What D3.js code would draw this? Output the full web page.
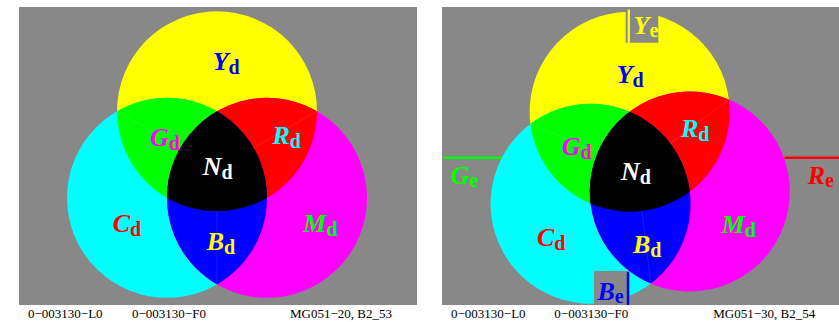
<!DOCTYPE html>
<html><head><meta charset="utf-8">
<script src="https://cdn.jsdelivr.net/npm/d3@7"></script>
<style>body{margin:0;background:#fff}svg{display:block}</style>
</head><body>
<svg id="chart" width="839" height="322"></svg>
<script>
// ---- data ----
const circleNames = ["Y", "C", "M"];
const circleColors = ["#ffff00", "#00ffff", "#ff00ff"];
const pairNames = ["G", "R", "B"];           // Y∩C, Y∩M, C∩M
const pairColors = ["#00ff00", "#ff0000", "#0000ff"];
const tripleName = "N";
const tripleColor = "#000000";
const labelLetters = ["Y", "G", "R", "N", "C", "M", "B"];
const labelColors = ["#0000ff", "#ff00ff", "#00ffff", "#ffffff", "#ff0000", "#00ff00", "#ffff00"];
const labelSub = "d";
const extLetters = ["Y", "G", "R", "B"];
const extColors = ["#ffff00", "#00ff00", "#ff0000", "#0000ff"];
const extSub = "e";
const footLeft = ["0\u2212003130\u2212L0", "0\u2212003130\u2212F0", "MG051\u221220, B2_53"];
const footRight = ["0\u2212003130\u2212L0", "0\u2212003130\u2212F0", "MG051\u221230, B2_54"];

// ---- layout ----
const svg = d3.select("#chart");
const unit = d3.scaleLinear().domain([0, 1]).range([0, 100]);
const GRAY = "#888888";
const FONT = "'Liberation Serif','Times New Roman',serif";
const centerAngles = {Y: -90, C: 150, M: 30};
const dist = 1 / Math.sqrt(3);
function center(n) {
  const a = centerAngles[n] * Math.PI / 180;
  return [unit(dist * Math.cos(a)), unit(dist * Math.sin(a))];
}
function outer(a, b) { // outer intersection of circles a,b: opposite the third
  const third = circleNames.find(n => n !== a && n !== b);
  const ang = (centerAngles[third] + 180) * Math.PI / 180;
  return [unit(2 * dist * Math.cos(ang)), unit(2 * dist * Math.sin(ang))];
}

const panels = [
  {id: "L", x0: 19, x1: 417, y0: 7, y1: 305, cx: 217, cy: 169, rot: 0,
   labels: [[212.7, 70], [150, 146], [272.5, 144], [202.7, 175], [112.7, 232], [303.3, 232], [206.7, 250]],
   foot: footLeft, footX: [28, 132, 290]},
  {id: "R", x0: 442, x1: 839, y0: 7, y1: 305, cx: 636.7, cy: 169, rot: -7,
   labels: [[616.7, 83], [561.7, 155], [681, 137], [621, 180], [537, 246], [721.7, 233], [633, 253]],
   foot: footRight, footX: [451, 554.3, 713.3]}
];

const defs = svg.append("defs");

function label(g, x, y, letter, sub, color, dy) {
  const t = g.append("text").attr("x", x).attr("y", y)
    .attr("fill", color).attr("font-family", FONT).attr("font-weight", "bold");
  t.append("tspan").attr("font-style", "italic").attr("font-size", 26).text(letter);
  t.append("tspan").attr("font-size", 20).attr("dy", dy).text(sub);
}

panels.forEach(p => {
  svg.append("rect").attr("x", p.x0).attr("y", p.y0)
    .attr("width", p.x1 - p.x0).attr("height", p.y1 - p.y0).attr("fill", GRAY);

  const pc = defs.append("clipPath").attr("id", "panel-" + p.id);
  pc.append("rect").attr("x", p.x0).attr("y", p.y0)
    .attr("width", p.x1 - p.x0).attr("height", p.y1 - p.y0);

  circleNames.forEach(n => {
    const c = center(n);
    defs.append("clipPath").attr("id", `c-${p.id}-${n}`)
      .append("circle").attr("cx", c[0]).attr("cy", c[1]).attr("r", unit(1));
  });

  const outerG = svg.append("g").attr("clip-path", `url(#panel-${p.id})`);
  const g = outerG.append("g")
    .attr("transform", `translate(${p.cx},${p.cy}) rotate(${p.rot})`);

  // single circles
  circleNames.forEach((n, i) => {
    const c = center(n);
    g.append("circle").attr("cx", c[0]).attr("cy", c[1]).attr("r", unit(1))
      .attr("fill", circleColors[i]);
  });
  // pairwise intersections
  const pairs = [["Y", "C"], ["Y", "M"], ["C", "M"]];
  pairs.forEach((pr, i) => {
    const c = center(pr[1]);
    g.append("circle").attr("cx", c[0]).attr("cy", c[1]).attr("r", unit(1))
      .attr("fill", pairColors[i]).attr("clip-path", `url(#c-${p.id}-${pr[0]})`);
  });
  pairs.forEach(pr => {
    const o = outer(pr[0], pr[1]);
    g.append("line").attr("x1", o[0]).attr("y1", o[1]).attr("x2", 0).attr("y2", 0)
      .attr("stroke", "#ffffff").attr("stroke-opacity", 0.13).attr("stroke-width", 0.8);
  });
  // triple intersection
  const cm = center("M");
  g.append("g").attr("clip-path", `url(#c-${p.id}-C)`)
    .append("circle").attr("cx", cm[0]).attr("cy", cm[1]).attr("r", unit(1))
    .attr("fill", tripleColor).attr("clip-path", `url(#c-${p.id}-Y)`);

  // labels
  labelLetters.forEach((L, i) => {
    label(svg, p.labels[i][0], p.labels[i][1], L, labelSub, labelColors[i], 4);
  });

  // footer
  p.foot.forEach((s, i) => {
    svg.append("text").attr("x", p.footX[i]).attr("y", 318)
      .attr("font-family", FONT).attr("font-size", 13).attr("fill", "#000").text(s);
  });
});

// external colour markers (right panel)
const ext = svg.append("g");
// Y_e
ext.append("rect").attr("x", 625.7).attr("y", 7).attr("width", 32.6).attr("height", 35.7).attr("fill", GRAY);
ext.append("line").attr("x1", 628.8).attr("x2", 628.8).attr("y1", 9.5).attr("y2", 42.7)
  .attr("stroke", extColors[0]).attr("stroke-width", 2.4);
label(ext, 633.5, 33.5, extLetters[0], extSub, extColors[0], 3);
// G_e
ext.append("line").attr("x1", 443).attr("x2", 501.8).attr("y1", 157.7).attr("y2", 157.7)
  .attr("stroke", extColors[1]).attr("stroke-width", 2.4);
label(ext, 450.7, 184, extLetters[1], extSub, extColors[1], 3);
// R_e
ext.append("line").attr("x1", 784.5).attr("x2", 839).attr("y1", 157.7).attr("y2", 157.7)
  .attr("stroke", extColors[2]).attr("stroke-width", 2.4);
label(ext, 807.7, 184, extLetters[2], extSub, extColors[2], 3);
// B_e
ext.append("rect").attr("x", 594).attr("y", 271).attr("width", 35.3).attr("height", 34).attr("fill", GRAY);
ext.append("line").attr("x1", 628).attr("x2", 628).attr("y1", 272).attr("y2", 305)
  .attr("stroke", extColors[3]).attr("stroke-width", 2.4);
label(ext, 597.5, 299.5, extLetters[3], extSub, extColors[3], 3);
</script>
</body></html>
